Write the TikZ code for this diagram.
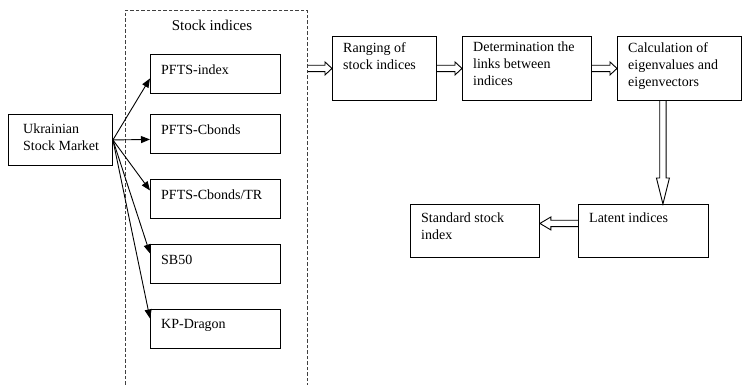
\documentclass[tikz,border=0pt]{standalone}
\usepackage{fontspec}
\setmainfont{Liberation Serif}
\usetikzlibrary{arrows.meta,calc}
\tikzset{
    box/.style={draw, line width=0.9pt, anchor=north west, inner sep=0pt, minimum width=130pt, minimum height=39pt},
    boxtext/.style={anchor=north west, inner xsep=11pt, inner ysep=6pt, align=left, font=\fontsize{14}{17}\selectfont},
    frame/.style={draw=black!75, line width=0.9pt, dash pattern=on 3.5pt off 2pt, anchor=north west, inner sep=0pt},
    link/.style={line width=0.9pt, -{Triangle[length=9pt,width=7pt]}},
    hollow/.style={line width=0.9pt, to path={
        let \p1=(\tikztostart), \p2=(\tikztotarget),
            \n1={atan2(\y2-\y1,\x2-\x1)}, \n2={veclen(\x2-\x1,\y2-\y1)-#1}
        in ($(\p1)+(\n1+90:3.2pt)$) -- ($(\p1)+(\n1:\n2*1pt)+(\n1+90:3.2pt)$)
           -- ($(\p1)+(\n1:\n2*1pt)+(\n1+90:6.5pt)$) -- (\p2)
           -- ($(\p1)+(\n1:\n2*1pt)+(\n1-90:6.5pt)$)
           -- ($(\p1)+(\n1:\n2*1pt)+(\n1-90:3.2pt)$) -- ($(\p1)+(\n1-90:3.2pt)$)}}
}

\begin{document}
\begin{tikzpicture}[x=1pt, y=-1pt]
    \useasboundingbox (0,0) rectangle (742,385);

    % stock indices group
    \node[frame, minimum width=182pt, minimum height=420pt] (stock) at (125,10) {};
    \node[font=\fontsize{15}{18}\selectfont] (stocktitle) at (212,25) {Stock indices};

    \node[box, minimum width=104pt, minimum height=51pt,
          label={[boxtext, inner xsep=15pt, inner ysep=10pt]north west:Ukrainian\\Stock Market}] (ukr) at (8,114) {};

    \node[box, label={[boxtext, inner ysep=10.5pt]north west:PFTS-index}] (pfts) at (150,54) {};
    \node[box, label={[boxtext, inner ysep=10.5pt]north west:PFTS-Cbonds}] (cbonds) at (150,114) {};
    \node[box, label={[boxtext, inner ysep=10.5pt]north west:PFTS-Cbonds/TR}] (cbondstr) at (150,179) {};
    \node[box, label={[boxtext, inner ysep=10.5pt]north west:SB50}] (sb) at (150,244) {};
    \node[box, label={[boxtext, inner ysep=10.5pt]north west:KP-Dragon}] (kp) at (150,309) {};

    \draw[link] (ukr.east) -- ([yshift=-4.5pt]pfts.west);
    \draw[link] (ukr.east) -- ([yshift=-5.5pt]cbonds.west);
    \draw[link] (ukr.east) -- ([yshift=8.5pt]cbondstr.west);
    \draw[link] (ukr.east) -- ([yshift=10.5pt]sb.west);
    \draw[link] (ukr.east) -- ([yshift=10.5pt]kp.west);

    % processing chain
    \node[box, minimum width=104pt, minimum height=64pt,
          label={[boxtext]north west:Ranging of\\stock indices}] (rng) at (332,36) {};
    \node[box, minimum width=129pt, minimum height=64pt,
          label={[boxtext]north west:Determination the\\links between\\indices}] (det) at (462,36) {};
    \node[box, minimum width=124pt, minimum height=64pt,
          label={[boxtext]north west:Calculation of\\eigenvalues and\\eigenvectors}] (calc) at (617,36) {};
    \node[box, minimum width=130pt, minimum height=53pt,
          label={[boxtext, inner ysep=9pt]north west:Latent indices}] (lat) at (578,204) {};
    \node[box, minimum width=129pt, minimum height=53pt,
          label={[boxtext, inner ysep=9pt]north west:Standard stock\\index}] (std) at (410,204) {};

    \draw[hollow=7pt] (stock.east |- rng.west) to (rng.west);
    \draw[hollow=7pt] (rng.east) to (det.west);
    \draw[hollow=7pt] (det.east) to (calc.west);
    \draw[hollow=26pt] ([xshift=-16.5pt]calc.south) to ([xshift=19.5pt]lat.north);
    \draw[hollow=11pt] ([yshift=7.5pt]lat.west) to ([yshift=7.5pt]std.east);
\end{tikzpicture}
\end{document}
